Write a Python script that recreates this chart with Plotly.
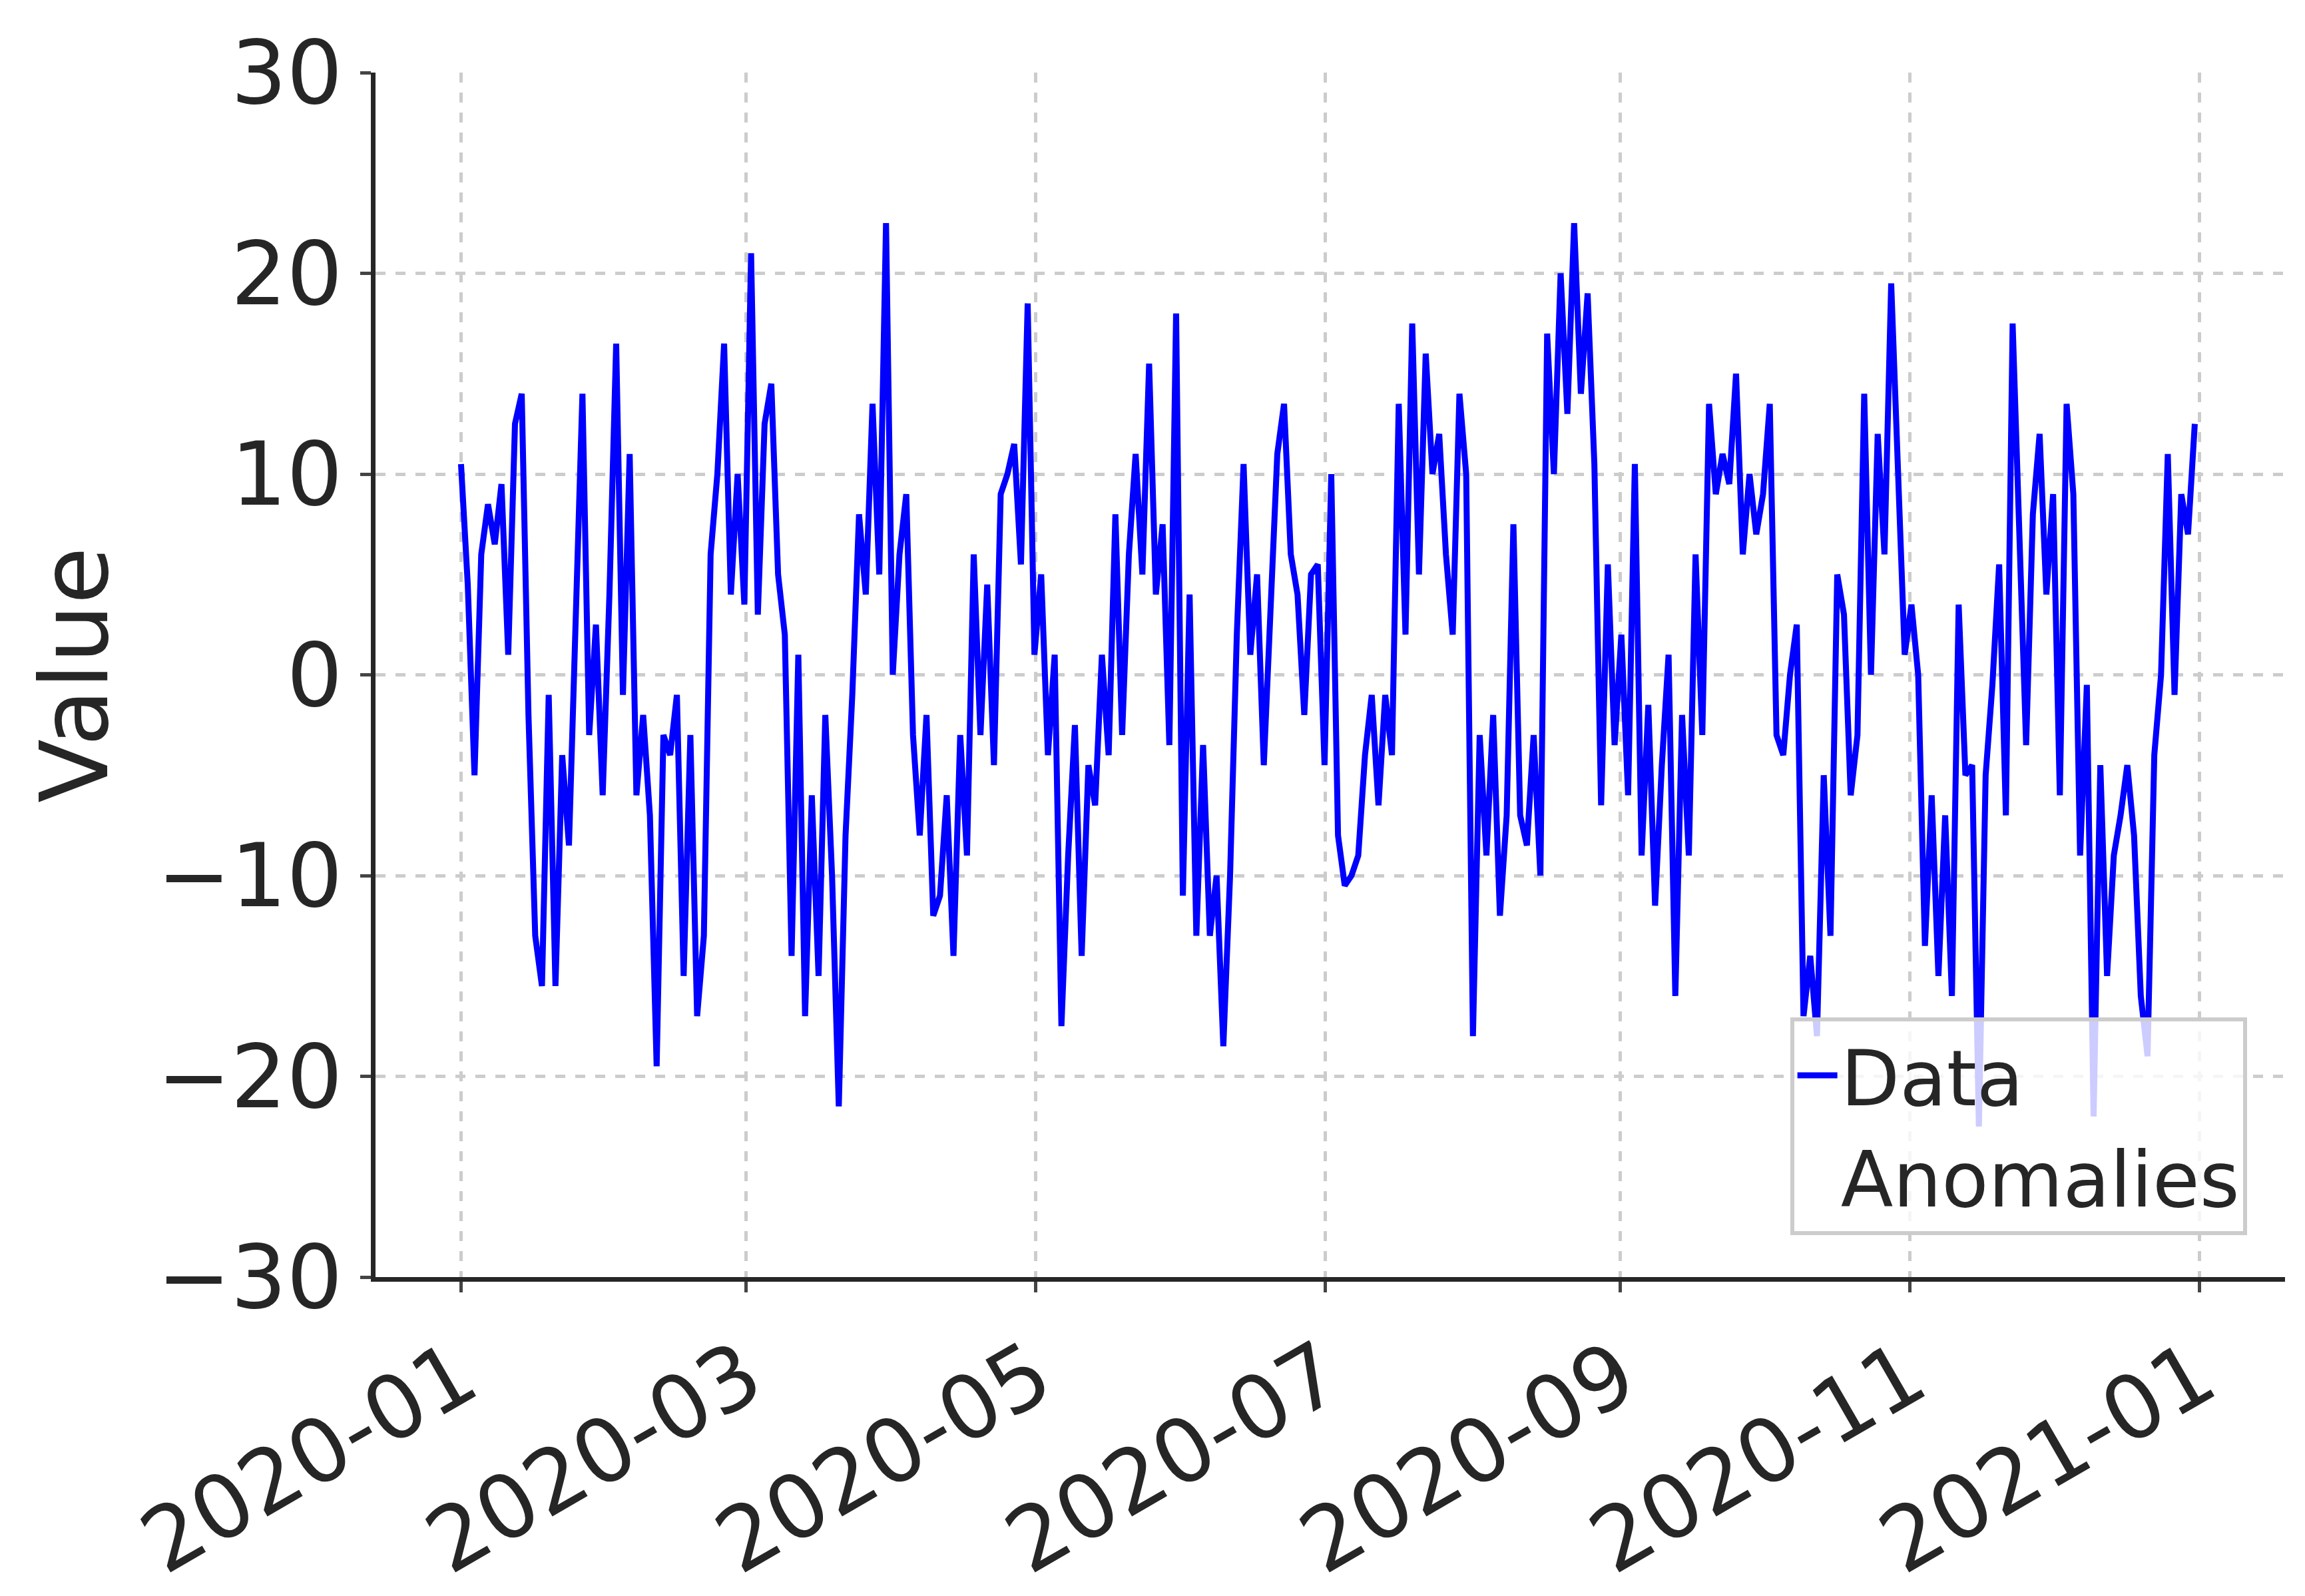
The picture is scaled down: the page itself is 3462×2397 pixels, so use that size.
import plotly.graph_objects as go
import pandas as pd

values = [10.5, 4.5, -5, 6, 8.5, 6.5, 9.5, 1, 12.5, 14,
 -2, -13, -15.5, -1, -15.5, -4, -8.5, 3, 14, -3, 2.5, -6, 4, 16.5, -1, 11, -6, -2, -7, -19.5, -3, -4, -1, -15, -3, -17, -13,
 6, 10, 16.5, 4, 10, 3.5, 21, 3, 12.5, 14.5, 5, 2, -14, 1, -17, -6, -15, -2, -10, -21.5, -8, -1,
 8, 4, 13.5, 5, 22.5, 0, 6, 9, -3, -8, -2, -12, -11, -6, -14, -3, -9, 6, -3,
 4.5, -4.5, 9, 10, 11.5, 5.5, 18.5, 1, 5, -4, 1, -17.5, -9, -2.5, -14, -4.5, -6.5, 1, -4, 8, -3, 6, 11, 5, 15.5, 4, 7.5, -3.5, 18, -11, 4, -13, -3.5, -13, -10, -18.5, -10, 2, 10.5, 1, 5, -4.5, 3, 11, 13.5, 6, 4, -2, 5, 5.5, -4.5, 10, -8, -10.5, -10, -9, -4, -1, -6.5, -1, -4, 13.5, 2, 17.5, 5, 16, 10, 12, 6, 2, 14, 10, -18, -3, -9, -2, -12, -7, 7.5, -7, -8.5, -3, -10, 17, 10, 20, 13, 22.5, 14, 19, 10.5, -6.5, 5.5, -3.5, 2, -6, 10.5, -9, -1.5, -11.5, -4.5, 1, -16, -2, -9, 6, -3, 13.5, 9, 11, 9.5, 15, 6, 10, 7, 9, 13.5, -3, -4, 0, 2.5, -17, -14, -18, -5, -13, 5, 3, -6, -3, 14, 0, 12, 6, 19.5, 10, 1, 3.5, 0, -13.5, -6, -15, -7, -16, 3.5, -5, -4.5, -22.5, -5, -0.5, 5.5, -7, 17.5, 7, -3.5, 8, 12, 4, 9, -6, 13.5, 9, -9, -0.5, -22, -4.5, -15, -9, -7, -4.5, -8, -16, -19, -4, 0, 11, -1, 9, 7, 12.5]
dates = pd.date_range("2020-01-01", "2020-12-31", periods=len(values))
tick_vals = ["2020-01-01","2020-03-01","2020-05-01","2020-07-01","2020-09-01","2020-11-01","2021-01-01"]
tick_text = ["2020-01","2020-03","2020-05","2020-07","2020-09","2020-11","2021-01"]

fig = go.Figure()
fig.add_trace(go.Scatter(x=dates, y=values, mode="lines", name="Data",
                         line=dict(color="#0000ff", width=9)))
fig.add_trace(go.Scatter(x=[None], y=[None], mode="markers", name="Anomalies",
                         marker=dict(color="rgba(0,0,0,0)", size=20)))
fig.update_layout(
    width=3462, height=2397, plot_bgcolor="white", paper_bgcolor="white",
    font=dict(family="DejaVu Sans", size=132, color="#262626"),
    margin=dict(l=556, r=38, t=101, b=455),
    legend=dict(x=0.98, y=0.035, xanchor="right", yanchor="bottom",
                bgcolor="rgba(255,255,255,0.8)", bordercolor="#cccccc", borderwidth=6,
                font=dict(size=115), itemwidth=60),
)
fig.update_xaxes(range=["2019-12-14", "2021-01-19"], tickvals=tick_vals, ticktext=tick_text,
                 tickangle=-30, showline=True, linecolor="#262626", linewidth=7,
                 ticks="outside", ticklen=16, tickwidth=5,
                 showgrid=True, gridcolor="#cccccc", griddash="dash", gridwidth=5, zeroline=False)
fig.update_yaxes(range=[-30, 30], dtick=10, title=dict(text="Value", font=dict(size=140), standoff=30),
                 showline=True, linecolor="#262626", linewidth=7,
                 ticks="outside", ticklen=16, tickwidth=5,
                 showgrid=True, gridcolor="#cccccc", griddash="dash", gridwidth=5, zeroline=False)
fig.write_html("out.html")
